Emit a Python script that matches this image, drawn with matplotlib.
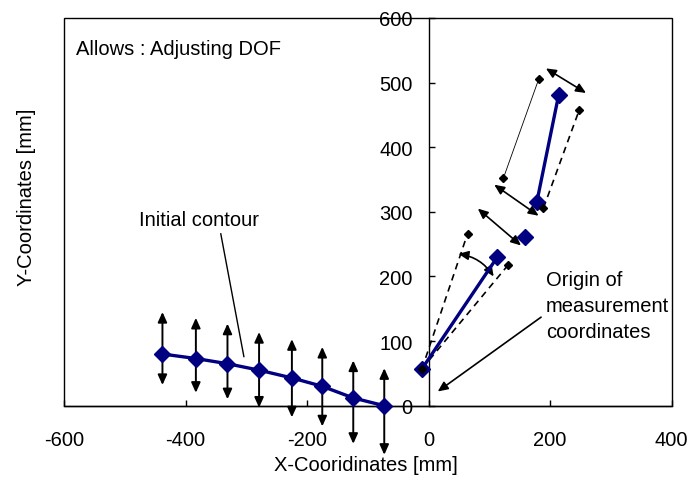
import matplotlib
matplotlib.use("Agg")
import matplotlib.pyplot as plt
from matplotlib.patches import FancyArrowPatch, Rectangle

plt.rcParams['font.family'] = ['Liberation Sans', 'DejaVu Sans']
plt.rcParams['axes.unicode_minus'] = False

# Initial contour nodes and their allowed vertical travel
contour_x = [-438, -383, -331, -279, -225, -175, -124, -73]
contour_y = [80, 73, 65, 55, 43, 30, 12, 0]
allow_top = [145, 136, 127, 114, 103, 91, 70, 58]
allow_bottom = [32, 20, 10, -3, -18, -32, -59, -76]

# Adjusted contour (links shown as separate segments)
adjusted_x = [-11, 113, 159, 178, 214]
adjusted_y = [57, 230, 261, 315, 481]
adjusted_links = [(0, 1), (3, 4)]

# Limit positions of the links
lower_limit_x = [64, 131]
lower_limit_y = [266, 218]
upper_solid_x = [123, 181]
upper_solid_y = [352, 505]
upper_dashed_x = [189, 248]
upper_dashed_y = [306, 458]

# Double-headed adjustment arrows: (x1, y1, x2, y2)
shift_arrows = [(193, 522, 259, 484), (108, 342, 181, 294), (81, 305, 152, 248)]
rotation_arrow = (49, 235, 107, 200)

navy = '#000080'
FS = 14.5

fig = plt.figure(figsize=(6.89, 4.81), dpi=100)
W, H = 689, 481
left, right, top, bottom = 64, 671.7, 19, 406.7
ax = fig.add_axes([left / W, 1 - bottom / H, (right - left) / W, (bottom - top) / H])
ax.set_xlim(-600, 400)
ax.set_ylim(0, 600)

# axes crossing at the origin, with a box around the plot area
ax.spines['left'].set_position(('data', 0))
ax.spines['top'].set_visible(False)
ax.spines['right'].set_visible(False)
for s in ('left', 'bottom'):
    ax.spines[s].set_linewidth(1.0)
ax.add_patch(Rectangle((0, 0), 1, 1, transform=ax.transAxes, fill=False,
                       lw=1.0, ec='black', clip_on=False, zorder=1))
ax.set_xticks([-600, -400, -200, 0, 200, 400])
ax.set_yticks([0, 100, 200, 300, 400, 500, 600])
ax.tick_params(axis='x', direction='in', length=4, width=1, pad=17.3, labelsize=FS)
ax.tick_params(axis='y', direction='in', length=4, width=1, pad=11.5, labelsize=FS)

ax.set_xlabel('X-Cooridinates [mm]', fontsize=FS)
ax.set_ylabel('Y-Coordinates [mm]', fontsize=FS)
ax.xaxis.set_label_coords(0.497, -0.128)
ax.yaxis.set_label_coords(-0.046, 0.541)


def arrow(x1, y1, x2, y2, rad=0.0, lw=1.2):
    a = FancyArrowPatch((x1, y1), (x2, y2),
                        arrowstyle='<|-|>,head_length=0.6,head_width=0.27',
                        connectionstyle=f'arc3,rad={rad}',
                        mutation_scale=10, lw=lw, color='black',
                        shrinkA=0, shrinkB=0, clip_on=False, zorder=3)
    ax.add_patch(a)


# vertical allowances on the initial contour
for x, t, b in zip(contour_x, allow_top, allow_bottom):
    arrow(x, b, x, t, lw=1.4)

ax.plot(contour_x, contour_y, color=navy, lw=2.4, marker='D', ms=8,
        clip_on=False, zorder=4)

# limit positions of the adjusted links
for lx, ly in zip(lower_limit_x, lower_limit_y):
    ax.plot([adjusted_x[0], lx], [adjusted_y[0], ly], color='black', lw=1.2,
            dashes=(4, 3), zorder=2)
ax.plot(upper_solid_x, upper_solid_y, color='black', lw=0.6, zorder=2)
ax.plot(upper_dashed_x, upper_dashed_y, color='black', lw=1.2, dashes=(4, 3), zorder=2)

# adjusted contour
for i, j in adjusted_links:
    ax.plot([adjusted_x[i], adjusted_x[j]], [adjusted_y[i], adjusted_y[j]],
            color=navy, lw=2.4, zorder=4)
ax.plot(adjusted_x, adjusted_y, ls='none', color=navy, marker='D', ms=8,
        clip_on=False, zorder=5)

ax.plot(lower_limit_x + upper_solid_x + upper_dashed_x,
        lower_limit_y + upper_solid_y + upper_dashed_y,
        ls='none', color='black', marker='D', ms=4.5, zorder=5)
ax.plot([adjusted_x[0]], [adjusted_y[0]], ls='none', color='black',
        marker='D', ms=4.5, zorder=6)

for x1, y1, x2, y2 in shift_arrows:
    arrow(x1, y1, x2, y2)
arrow(*rotation_arrow, rad=-0.22)

# annotations
ax.text(-580, 553, 'Allows : Adjusting DOF', fontsize=FS, va='center', ha='left')
ax.text(-476, 280, 'Initial contour', fontsize=FS, va='baseline', ha='left')
ax.plot([-342, -304], [266, 76], color='black', lw=1.0, zorder=3)

for txt, yb in zip(['Origin of', 'measurement', 'coordinates'], [187, 147, 107]):
    ax.text(193, yb, txt, fontsize=FS, va='baseline', ha='left')
ax.add_patch(FancyArrowPatch((185, 137), (15, 22),
                             arrowstyle='-|>,head_length=0.6,head_width=0.27',
                             mutation_scale=10, lw=1.2, color='black',
                             shrinkA=0, shrinkB=0, zorder=3))

fig.savefig('out.png', dpi=100)
